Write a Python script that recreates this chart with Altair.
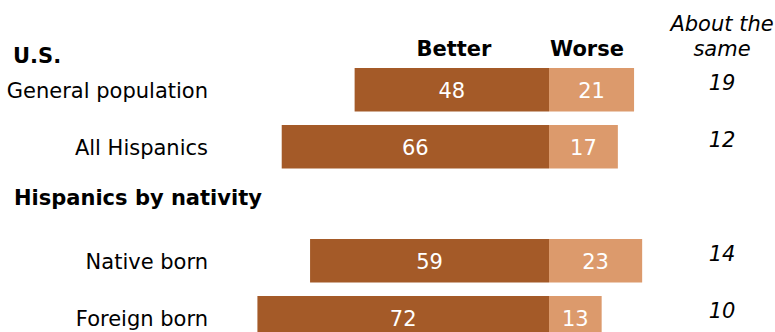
import altair as alt
import pandas as pd

# ---- data ----
groups = ["General population", "All Hispanics", "Native born", "Foreign born"]
better = [48, 66, 59, 72]
worse = [21, 17, 23, 13]
same = [19, 12, 14, 10]
row_order = ["General population", "All Hispanics", " ", "Native born", "Foreign born"]

section_titles = ["U.S.", "Hispanics by nativity"]
col_better = "Better"
col_worse = "Worse"
col_same = ["About the", "same"]

DARK = "#A45A28"
LIGHT = "#DC9A6C"
FONT = "DejaVu Sans"
FS = 21

df = pd.DataFrame({"group": groups, "better": better, "worse": worse, "same": same})

xscale = alt.Scale(domain=[-135.56, 55.8], nice=False, zero=False)
yscale = alt.Scale(domain=row_order, range=[68, 339.5], paddingInner=0.237, paddingOuter=0)

base = alt.Chart(df).transform_calculate(
    neg_better="-datum.better",
    mid_better="-datum.better/2",
    mid_worse="datum.worse/2",
)

Y = alt.Y("group:N", scale=yscale, axis=None)

bar_better = base.mark_bar(color=DARK, clip=True).encode(
    x=alt.X("neg_better:Q", scale=xscale, axis=None),
    x2=alt.datum(0),
    y=Y,
)
bar_worse = base.mark_bar(color=LIGHT, clip=True).encode(
    x=alt.X("worse:Q", scale=xscale, axis=None),
    x2=alt.datum(0),
    y=Y,
)
txt_better = base.mark_text(color="white", font=FONT, fontSize=FS, baseline="middle", align="center", dy=2, clip=True).encode(
    x=alt.X("mid_better:Q", scale=xscale, axis=None),
    y=Y,
    text="better:Q",
)
txt_worse = base.mark_text(color="white", font=FONT, fontSize=FS, baseline="middle", align="center", dy=2, clip=True).encode(
    x=alt.X("mid_worse:Q", scale=xscale, axis=None),
    y=Y,
    text="worse:Q",
)
txt_same = base.mark_text(color="black", font=FONT, fontSize=FS, fontStyle="italic", baseline="alphabetic", align="center").encode(
    x=alt.value(722),
    y=Y,
    text="same:Q",
)
cat_labels = base.mark_text(color="black", font=FONT, fontSize=FS, baseline="middle", align="right", dy=2).encode(
    x=alt.value(208),
    y=Y,
    text="group:N",
)

def label(text, x, y, align="left", bold=False, italic=False):
    kw = dict(text=text, x=x, y=y, align=align, baseline="alphabetic", font=FONT, fontSize=FS, color="black")
    if bold:
        kw["fontWeight"] = "bold"
    if italic:
        kw["fontStyle"] = "italic"
    return alt.Chart(pd.DataFrame({"t": [text]})).mark_text(**kw).encode(x=alt.value(x), y=alt.value(y))

hdrs = [
    label(section_titles[0], 13, 63, bold=True),
    label(section_titles[1], 14, 205, bold=True),
    label(col_better, 454, 56, align="center", bold=True),
    label(col_worse, 587, 56, align="center", bold=True),
    label(col_same[0], 722, 31, align="center", italic=True),
    label(col_same[1], 722, 56, align="center", italic=True),
]

chart = alt.layer(
    bar_better, bar_worse, txt_better, txt_worse, txt_same, cat_labels, *hdrs
).properties(
    width=775,
    height=332,
    autosize=alt.AutoSizeParams(type="none"),
    padding=0,
).configure_view(stroke=None)

chart.save("out.html", embed_options={"renderer": "svg", "actions": False})
